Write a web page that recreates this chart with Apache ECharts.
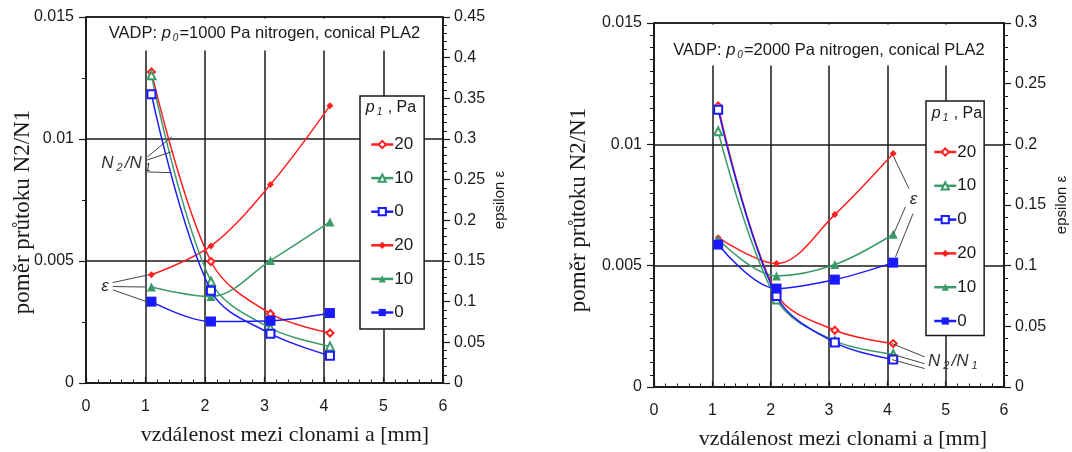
<!DOCTYPE html>
<html lang="cs">
<head>
<meta charset="UTF-8">
<title>poměr průtoku N2/N1 a epsilon</title>
<script src="https://cdn.jsdelivr.net/npm/echarts@6/dist/echarts.min.js"></script>
<style>
  html, body { margin: 0; padding: 0; background: #fff; }
  #main { width: 1072px; height: 452px; }
</style>
</head>
<body>
<div id="main"></div>
<script>
// vzdálenost mezi clonami a [mm]
var distA = [1.1, 2.1, 3.1, 4.1];
var p1Levels = ['20', '10', '0'];

// p0 = 1000 Pa : poměr N2/N1 (levá osa) a epsilon (pravá osa)
var ratio1000_20 = [0.01275, 0.00498, 0.00284, 0.00205];
var ratio1000_10 = [0.01261, 0.00416, 0.00225, 0.00150];
var ratio1000_0  = [0.01183, 0.00378, 0.00202, 0.00112];
var eps1000_20 = [0.133, 0.1685, 0.244, 0.341];
var eps1000_10 = [0.118, 0.1063, 0.1505, 0.198];
var eps1000_0  = [0.100, 0.0756, 0.0765, 0.086];

// p0 = 2000 Pa
var ratio2000_20 = [0.01158, 0.00385, 0.00234, 0.00179];
var ratio2000_10 = [0.01054, 0.00361, 0.00190, 0.00135];
var ratio2000_0  = [0.01143, 0.00375, 0.00183, 0.00113];
var eps2000_20 = [0.1231, 0.1017, 0.1421, 0.1924];
var eps2000_10 = [0.1217, 0.0915, 0.1009, 0.1259];
var eps2000_0  = [0.1174, 0.0811, 0.0885, 0.1025];

var chart = echarts.init(document.getElementById('main'));

var SANS = '"Liberation Sans", Arial, sans-serif';
var SERIF = '"Liberation Serif", "Times New Roman", serif';
var INK = '#1a1a1a';
var colors = ['#ff1f1f', '#3a9a6a', '#1a1aff'];
var hollowSym = [['emptyDiamond', 7], ['emptyTriangle', 8], ['emptyRect', 8]];
var filledSym = [['diamond', 7], ['triangle', 9], ['rect', 10]];

// rozložení obou grafů
var panels = [
  {
    p0: '1000', grid: { left: 86, top: 17, width: 357, height: 366 },
    epsMax: 0.45, ratioMinor: 2,
    ratio: [ratio1000_20, ratio1000_10, ratio1000_0],
    eps: [eps1000_20, eps1000_10, eps1000_0],
    yNameGap: 52, yNamePad: [0, 24, 0, 0], xNamePad: [0, 0, 0, 41], epsNameGap: 49,
    titleBox: { y: 18.5, h: 32 }, titleY: 33.5,
    legend: { left: 360, top: 96, padding: [40, 11, 8, 10], itemGap: 16.6 }, headerY: 108
  },
  {
    p0: '2000', grid: { left: 654, top: 23, width: 350, height: 364 },
    epsMax: 0.3, ratioMinor: 10,
    ratio: [ratio2000_20, ratio2000_10, ratio2000_0],
    eps: [eps2000_20, eps2000_10, eps2000_0],
    yNameGap: 64, yNamePad: [0, 10, 0, 0], xNamePad: [0, 0, 0, 28], epsNameGap: 50,
    titleBox: { y: 24.5, h: 41 }, titleY: 50.5,
    legend: { left: 926, top: 101, padding: [42.5, 8, 6, 7], itemGap: 16.8 }, headerY: 114
  }
];

// popisky s vodicími čarami (souřadnice v jednotkách os)
var notes = [
  { panel: 0, axis: 'ratio', text: 'N', at: [0.69, 0.00901],
    leaders: [[[1.03, 0.00926], [1.44, 0.01009]], [[1.03, 0.00914], [1.44, 0.00948]], [[1.03, 0.00865], [1.44, 0.00862]]] },
  { panel: 0, axis: 'eps', text: 'e', at: [0.32, 0.1194],
    leaders: [[[0.45, 0.1235], [1.05, 0.133]], [[0.45, 0.1186], [1.02, 0.118]], [[0.45, 0.1145], [1.02, 0.100]]] },
  { panel: 1, axis: 'eps', text: 'e', at: [4.45, 0.1545],
    leaders: [[[4.37, 0.1635], [4.11, 0.1896]], [[4.31, 0.1484], [4.11, 0.1264]], [[4.44, 0.1429], [4.14, 0.1071]]] },
  { panel: 1, axis: 'ratio', text: 'N', at: [5.14, 0.00107],
    leaders: [[[4.64, 0.00124], [4.08, 0.00179]], [[4.64, 0.00096], [4.08, 0.00135]], [[4.64, 0.00076], [4.08, 0.00113]]] }
];

function pairs(vals) {
  return distA.map(function (x, i) { return [x, vals[i]]; });
}

var grids = [], xAxes = [], yAxes = [], series = [], legends = [], graphics = [];

panels.forEach(function (p, k) {
  grids.push({
    left: p.grid.left, top: p.grid.top, width: p.grid.width, height: p.grid.height,
    show: true, borderColor: INK, borderWidth: 1.5, backgroundColor: 'transparent',
    containLabel: false, outerBoundsMode: 'none'
  });
  xAxes.push({
    type: 'value', gridIndex: k, min: 0, max: 6, interval: 1,
    name: 'vzdálenost mezi clonami a [mm]', nameLocation: 'middle', nameGap: 41, nameMoveOverlap: false,
    nameTextStyle: { fontFamily: SERIF, fontSize: 22, color: INK, padding: p.xNamePad },
    axisLine: { show: true, lineStyle: { color: INK, width: 1.5 } },
    axisTick: { show: true, inside: true, length: 6, lineStyle: { color: INK, width: 1.2 } },
    minorTick: { show: true, splitNumber: 5, length: 3.5, lineStyle: { color: INK, width: 1 } },
    axisLabel: { margin: 16, fontFamily: SANS, fontSize: 16, color: INK },
    splitLine: { show: true, lineStyle: { color: INK, width: 1.5 } }
  });
  yAxes.push({
    type: 'value', gridIndex: k, position: 'left', min: 0, max: 0.015, interval: 0.005,
    name: 'poměr průtoku N2/N1', nameLocation: 'middle', nameGap: p.yNameGap, nameMoveOverlap: false,
    nameTextStyle: { fontFamily: SERIF, fontSize: 23, color: INK, padding: p.yNamePad },
    axisLine: { show: true, lineStyle: { color: INK, width: 1.5 } },
    axisTick: { show: true, inside: false, length: 7, lineStyle: { color: INK, width: 1.2 } },
    minorTick: { show: true, splitNumber: p.ratioMinor, length: 4, lineStyle: { color: INK, width: 1 } },
    axisLabel: { margin: 12, fontFamily: SANS, fontSize: 16, color: INK },
    splitLine: { show: true, lineStyle: { color: INK, width: 1.5 } }
  });
  yAxes.push({
    type: 'value', gridIndex: k, position: 'right', min: 0, max: p.epsMax, interval: 0.05,
    name: 'epsilon ε', nameLocation: 'middle', nameGap: p.epsNameGap, nameMoveOverlap: false,
    nameTextStyle: { fontFamily: SANS, fontSize: 15, color: INK },
    axisLine: { show: true, lineStyle: { color: INK, width: 1.5 } },
    axisTick: { show: true, inside: false, length: 7, lineStyle: { color: INK, width: 1.2 } },
    minorTick: { show: true, splitNumber: 5, length: 4, lineStyle: { color: INK, width: 1 } },
    axisLabel: { margin: 11, fontFamily: SANS, fontSize: 16, color: INK },
    splitLine: { show: false }
  });

  var names = [];
  // N2/N1 – prázdné značky
  p1Levels.forEach(function (lev, i) {
    var nm = k + ' N ' + lev;
    names.push(nm);
    series.push({
      name: nm, type: 'line', xAxisIndex: k, yAxisIndex: 2 * k,
      data: pairs(p.ratio[i]), smooth: 0.35,
      symbol: hollowSym[i][0], symbolSize: hollowSym[i][1],
      lineStyle: { color: colors[i], width: 1.5 },
      itemStyle: { color: colors[i], borderColor: colors[i], borderWidth: 1.2 },
      z: 3 + i
    });
  });
  // epsilon – plné značky
  p1Levels.forEach(function (lev, i) {
    var nm = k + ' E ' + lev;
    names.push(nm);
    series.push({
      name: nm, type: 'line', xAxisIndex: k, yAxisIndex: 2 * k + 1,
      data: pairs(p.eps[i]), smooth: 0.35,
      symbol: filledSym[i][0], symbolSize: filledSym[i][1],
      lineStyle: { color: colors[i], width: 1.5 },
      itemStyle: { color: colors[i], borderColor: colors[i], borderWidth: 0 },
      z: 3 + i
    });
  });

  legends.push({
    data: names, orient: 'vertical', left: p.legend.left, top: p.legend.top,
    padding: p.legend.padding, itemGap: p.legend.itemGap, itemWidth: 22, itemHeight: 9,
    backgroundColor: '#fff', borderColor: INK, borderWidth: 1.5, borderRadius: 0,
    selectedMode: false,
    lineStyle: { width: 2.5 },
    formatter: function (name) { return name.split(' ')[2]; },
    textStyle: { fontFamily: SANS, fontSize: 17, color: INK, padding: [0, 0, 0, -4] }
  });

  // bílé pozadí titulku (zakrývá svislou mřížku)
  graphics.push({
    type: 'rect', z: 10,
    shape: { x: p.grid.left + 1.5, y: p.titleBox.y, width: p.grid.width - 3, height: p.titleBox.h },
    style: { fill: '#fff' }
  });
  graphics.push({
    type: 'text', z: 11, x: p.grid.left + p.grid.width / 2, y: p.titleY,
    style: {
      text: '{n|VADP: }{i|p}{s|0}{n|=' + p.p0 + ' Pa nitrogen, conical PLA2}',
      align: 'center', verticalAlign: 'middle',
      rich: {
        n: { fontFamily: SANS, fontSize: 16.5, fill: INK },
        i: { fontFamily: SANS, fontSize: 16.5, fontStyle: 'italic', fill: INK },
        s: { fontFamily: SANS, fontSize: 10, fontStyle: 'italic', fill: INK, padding: [9, 1, 0, 2] }
      }
    }
  });
  // hlavička legendy
  graphics.push({
    type: 'text', z: 11, x: p.legend.left + 31, y: p.headerY,
    style: {
      text: '{i|p}{s|1}{n| , Pa}',
      align: 'center', verticalAlign: 'middle',
      rich: {
        n: { fontFamily: SANS, fontSize: 16, fill: INK },
        i: { fontFamily: SANS, fontSize: 16, fontStyle: 'italic', fill: INK },
        s: { fontFamily: SANS, fontSize: 10, fontStyle: 'italic', fill: INK, padding: [9, 1, 0, 2] }
      }
    }
  });
});

var option = {
  backgroundColor: '#fff',
  animation: false,
  grid: grids,
  xAxis: xAxes,
  yAxis: yAxes,
  legend: legends,
  series: series,
  graphic: graphics
};

chart.setOption(option);

// popisky N2/N1 a ε převedené do pixelů přes osy
notes.forEach(function (n) {
  var finder = { xAxisIndex: n.panel, yAxisIndex: 2 * n.panel + (n.axis === 'eps' ? 1 : 0) };
  var c = chart.convertToPixel(finder, n.at);
  var label = n.text === 'N'
    ? '{i|N}{s|2}{i|/N}{s|1}'
    : '{i|ε}';
  graphics.push({
    type: 'text', z: 12, x: c[0], y: c[1],
    style: {
      text: label, align: 'center', verticalAlign: 'middle',
      rich: {
        i: { fontFamily: SANS, fontSize: 17, fontStyle: 'italic', fill: '#333' },
        s: { fontFamily: SANS, fontSize: 11, fontStyle: 'italic', fill: '#333', padding: [9, 2, 0, 3] }
      }
    }
  });
  n.leaders.forEach(function (ld) {
    var a = chart.convertToPixel(finder, ld[0]);
    var b = chart.convertToPixel(finder, ld[1]);
    graphics.push({
      type: 'line', z: 12,
      shape: { x1: a[0], y1: a[1], x2: b[0], y2: b[1] },
      style: { stroke: '#444', lineWidth: 1 }
    });
  });
});

chart.setOption({ graphic: graphics });
</script>
</body>
</html>
